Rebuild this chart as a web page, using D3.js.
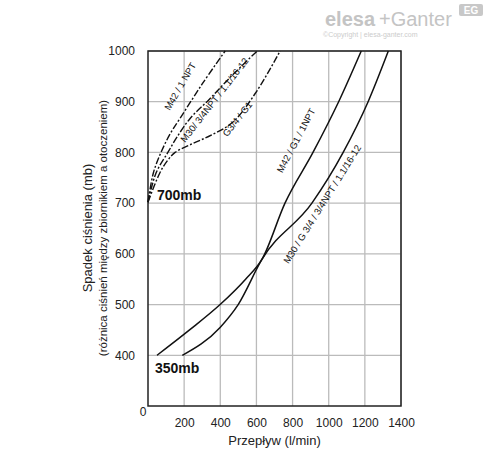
<!DOCTYPE html>
<html><head><meta charset="utf-8">
<script src="https://cdn.jsdelivr.net/npm/d3@7"></script>
<style>body{margin:0;background:#fff}text{font-family:"Liberation Sans",Arial,sans-serif}</style>
</head><body><svg id="c" width="488" height="454"></svg>
<script>
var xTicks = [200,400,600,800,1000,1200,1400]
var yTicks = [400,500,600,700,800,900,1000]
// solid curves [flow, pressure]
var m42 = [[50,400],[230,450],[399,500],[540,550],[632,590],[758,700],[913,800],[1055,900],[1180,1000]]
var m30 = [[190,400],[399,455],[499,500],[632,590],[907,700],[1080,800],[1218,900],[1330,1000]]
// dash-dot curves
var d42 = [[0,702],[30,760],[72,800],[120,835],[177,867],[300,935],[427,1000]]
var d30 = [[0,702],[45,760],[110,800],[160,830],[233,867],[340,905],[460,950],[604,1000]]
var dG = [[0,702],[66,760],[110,785],[150,800],[250,818],[350,834],[470,860],[604,922],[731,1000]]

var svg = d3.select("#c")
var x = d3.scaleLinear().domain([0,1400]).range([148,401])
var y = d3.scaleLinear().domain([300,1000]).range([406,51])
var fmt = d3.format("d")

var g = svg.append("g")
xTicks.forEach(function(t){
  g.append("line").attr("x1",x(t)).attr("x2",x(t)).attr("y1",y(300)).attr("y2",y(1000)).attr("stroke","#bbb").attr("stroke-width",1.3)
})
yTicks.forEach(function(t){
  g.append("line").attr("x1",x(0)).attr("x2",x(1400)).attr("y1",y(t)).attr("y2",y(t)).attr("stroke","#bbb").attr("stroke-width",1.3)
})
svg.append("rect").attr("x",x(0)).attr("y",y(1000)).attr("width",x(1400)-x(0)).attr("height",y(300)-y(1000))
  .attr("fill","none").attr("stroke","#222").attr("stroke-width",1.5)

svg.append("g").attr("transform","translate(0,"+(y(300)+9)+")")
  .call(d3.axisBottom(x).tickValues(xTicks).tickSize(0).tickFormat(fmt))
  .call(function(a){a.select(".domain").remove();a.selectAll("text").attr("font-size",12).attr("fill","#222")})
svg.append("g").attr("transform","translate("+(x(0)-10)+",0)")
  .call(d3.axisLeft(y).tickValues(yTicks).tickSize(0).tickFormat(fmt))
  .call(function(a){a.select(".domain").remove();a.selectAll("text").attr("font-size",12).attr("fill","#222")})
svg.append("text").attr("x",x(0)-5).attr("y",y(300)+10).attr("text-anchor","middle").attr("font-size",12).attr("fill","#222").text("0")

var line = d3.line().x(function(d){return x(d[0])}).y(function(d){return y(d[1])})
;[m42,m30].forEach(function(s){
  svg.append("path").attr("d",line.curve(d3.curveMonotoneX)(s)).attr("fill","none").attr("stroke","#111").attr("stroke-width",1.5)
})
;[d42,d30,dG].forEach(function(s){
  svg.append("path").attr("d",line.curve(d3.curveCatmullRom)(s)).attr("fill","none").attr("stroke","#111").attr("stroke-width",1.4).attr("stroke-dasharray","7,2,2,2")
})

function lab(t,px,py,rot,fs){
  svg.append("text").attr("transform","translate("+px+","+py+") rotate("+rot+")").attr("text-anchor","middle")
    .attr("font-size",fs).attr("fill","#111").text(t)
}
lab("M42 / 1 NPT",183,88,-60,9.5)
lab("M30/ 3/4NPT / 1.1/16-12",217,102,-52,9.5)
lab("G3/4 / G1",240,121,-52,9.5)
lab("M42 / G1 / 1NPT",299,142,-62,9.5)
lab("M30 / G 3/4 / 3/4NPT / 1.1/16-12",325,206,-58,9.5)

svg.append("text").attr("x",157).attr("y",200).attr("font-size",14).attr("font-weight","bold").attr("fill","#111").text("700mb")
svg.append("text").attr("x",155).attr("y",373).attr("font-size",14).attr("font-weight","bold").attr("fill","#111").text("350mb")

svg.append("text").attr("x",x(700)).attr("y",445).attr("text-anchor","middle").attr("font-size",13).attr("fill","#222").text("Przepływ (l/min)")
svg.append("text").attr("transform","translate(92,228) rotate(-90)").attr("text-anchor","middle").attr("font-size",13).attr("fill","#222").text("Spadek ciśnienia (mb)")
svg.append("text").attr("transform","translate(107,228) rotate(-90)").attr("text-anchor","middle").attr("font-size",11.5).attr("fill","#222").text("(różnica ciśnień między zbiornikiem a otoczeniem)")

// watermark
svg.append("text").attr("x",325).attr("y",26).attr("font-size",20).attr("font-weight","bold").attr("fill","#c4c4c4").text("elesa")
svg.append("text").attr("x",379).attr("y",26).attr("font-size",20).attr("fill","#c4c4c4").text("+Ganter")
svg.append("text").attr("x",323).attr("y",37).attr("font-size",7).attr("fill","#ccc").text("©Copyright | elesa-ganter.com")
svg.append("rect").attr("x",459).attr("y",4).attr("width",24).attr("height",12).attr("rx",2).attr("fill","#c8c8c8")
svg.append("text").attr("x",471).attr("y",14).attr("text-anchor","middle").attr("font-size",10).attr("font-weight","bold").attr("fill","#fff").text("EG")
</script></body></html>
